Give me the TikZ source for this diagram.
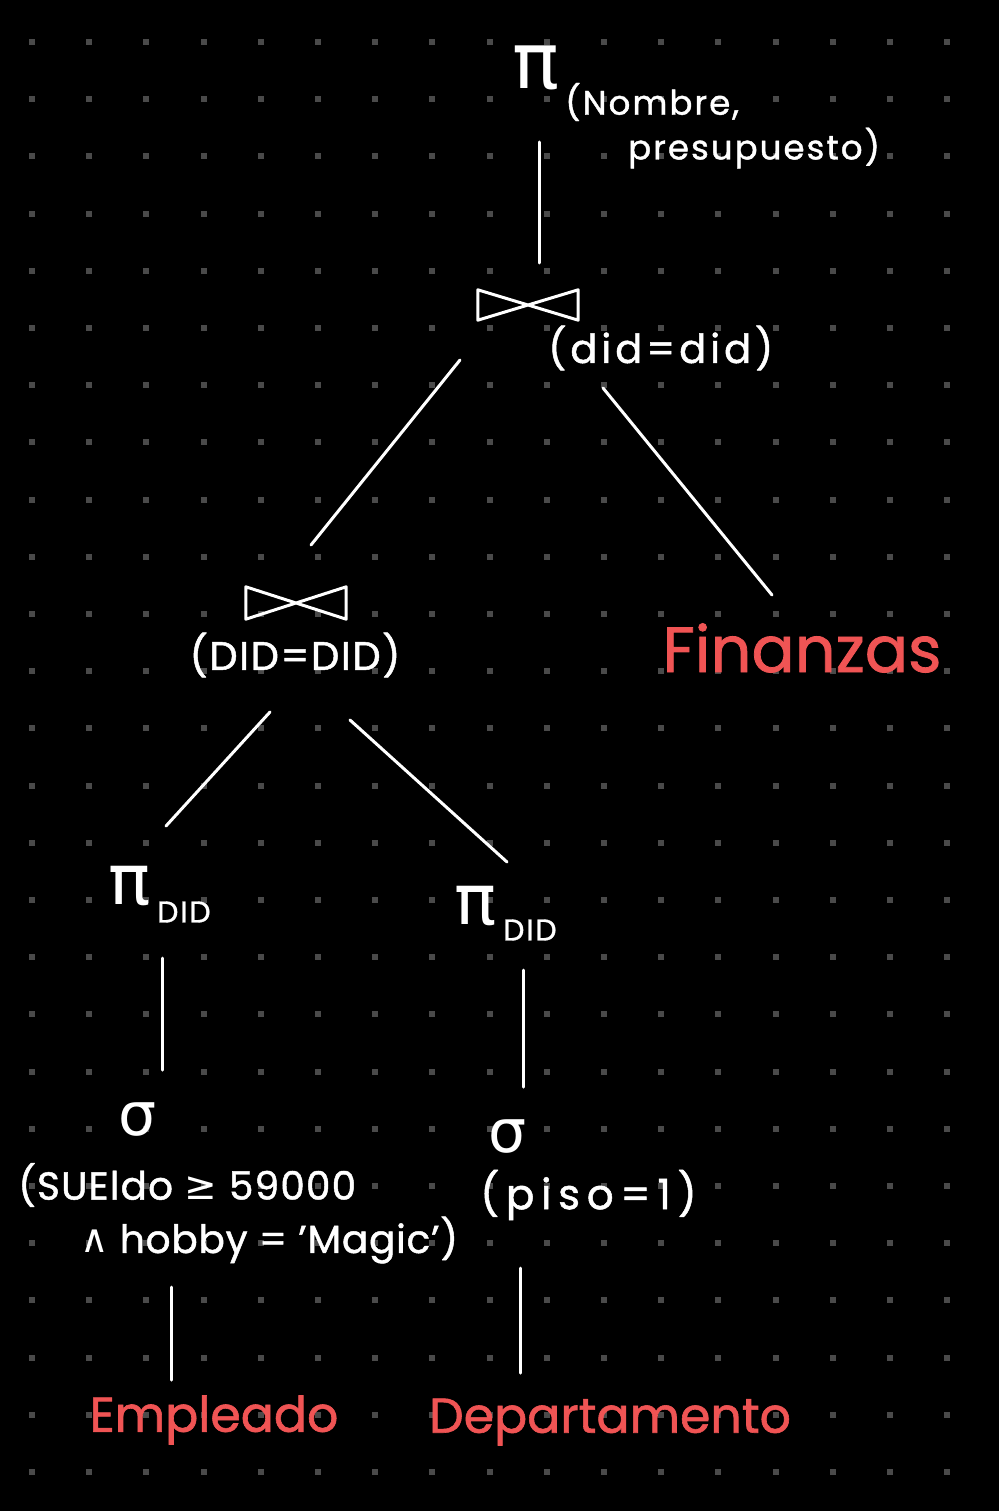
\documentclass[tikz,border=0pt]{standalone}
\usepackage{fontspec}
\usepackage{xcolor}
\setmainfont{Poppins}[FakeBold=1.2]
\newfontfamily\symfont{DejaVu Sans}
\usetikzlibrary{positioning}

\definecolor{inkred}{RGB}{240,84,84}
\definecolor{dotgray}{RGB}{74,74,74}

% bow-tie join symbol drawn over an empty node
\newcommand{\drawjoin}[1]{\draw[opline] (#1.north west) -- (#1.south west) -- (#1.north east) -- (#1.south east) -- cycle;}

\begin{document}
\begin{tikzpicture}[x=1pt, y=-1pt,
    every node/.style={text=white, inner sep=0pt},
    greek/.style={font=\symfont\fontsize{78}{80}\selectfont},
    greeksmall/.style={font=\symfont\fontsize{60}{62}\selectfont},
    attr/.style={font=\fontsize{34}{40}\selectfont\addfontfeature{LetterSpace=6}},
    subattr/.style={font=\fontsize{30}{36}\selectfont\addfontfeature{LetterSpace=6}},
    cond/.style={font=\fontsize{40}{48}\selectfont\addfontfeature{LetterSpace=4}},
    relname/.style={text=inkred, font=\fontsize{49}{56}\selectfont},
    joinop/.style={minimum width=100pt, minimum height=30pt},
    opline/.style={white, line width=3pt, line join=round, line cap=round},
    edge/.style={white, line width=3pt, line cap=round}]

    % background and dot grid
    \fill[black] (0,0) rectangle (999,1511);
    \useasboundingbox (0,0) rectangle (999,1511);
    \foreach \i in {0,...,16}
        \foreach \j in {0,...,25}
            \fill[dotgray] (32+57.2*\i-3, 42+57.2*\j-3) rectangle ++(6,6);

    % Projection (Nombre, presupuesto)
    \node [greek] (pitop) at (536,68) {π};
    \node [attr, anchor=west] (projattr) at (565,102) {(Nombre,};
    \node [attr, anchor=west] (projattrb) at (628,148) {presupuesto)};

    % Join did = did
    \node [joinop] (join1) at (528,305) {};
    \drawjoin{join1}
    \node [cond, anchor=west, font=\fontsize{40}{48}\selectfont\addfontfeature{LetterSpace=10}] (join1cond) at (548,348) {(did=did)};

    % Join DID = DID
    \node [joinop, minimum height=32pt] (join2) at (296,603) {};
    \drawjoin{join2}
    \node [cond] (join2cond) at (295,655) {(DID=DID)};

    % Finanzas
    \node [relname, font=\fontsize{64}{70}\selectfont] (finanzas) at (802,648) {Finanzas};

    % Projections DID
    \node [greek, font=\symfont\fontsize{70}{72}\selectfont] (pileft) at (130,886) {π};
    \node [subattr, anchor=west] (pileftattr) at (157,912) {DID};
    \node [greek, font=\symfont\fontsize{70}{72}\selectfont] (piright) at (476,906) {π};
    \node [subattr, anchor=west] (pirightattr) at (503,930) {DID};

    % Selections
    \node [greeksmall] (sigleft) at (138,1120) {σ};
    \node [cond, anchor=west, font=\fontsize{39}{46}\selectfont\addfontfeature{LetterSpace=3}] (sigleftcond) at (18,1185) {(SUEldo {\symfont≥} 59000};
    \node [cond, anchor=west, font=\fontsize{39}{46}\selectfont\addfontfeature{LetterSpace=2}] (sigleftcondb) at (80,1240) {{\symfont∧} hobby = 'Magic')};
    \node [greeksmall] (sigright) at (508,1137) {σ};
    \node [cond, anchor=west, font=\fontsize{42}{48}\selectfont\addfontfeature{LetterSpace=16}] (sigrightcond) at (480,1195) {(piso=1)};

    % Relations
    \node [relname] (empleado) at (214,1420) {Empleado};
    \node [relname] (depto) at (610,1422) {Departamento};

    % Connectors
    \draw[edge] ([shift={(3,74)}]pitop.center) -- ([shift={(11,-42)}]join1.center);
    \draw[edge] ([shift={(-68,55)}]join1.center) -- ([shift={(15,-58)}]join2.center);
    \draw[edge] ([shift={(75,83)}]join1.center) -- ([shift={(-30,-53)}]finanzas.center);
    \draw[edge] ([shift={(-26,109)}]join2.center) -- ([shift={(36,-60)}]pileft.center);
    \draw[edge] ([shift={(54,117)}]join2.center) -- ([shift={(31,-44)}]piright.center);
    \draw[edge] ([shift={(32,72)}]pileft.center) -- ([shift={(24,-50)}]sigleft.center);
    \draw[edge] ([shift={(47,64)}]piright.center) -- ([shift={(15,-50)}]sigright.center);
    \draw[edge] ([shift={(33,167)}]sigleft.center) -- ([shift={(-43,-40)}]empleado.center);
    \draw[edge] ([shift={(12,131)}]sigright.center) -- ([shift={(-90,-49)}]depto.center);
\end{tikzpicture}
\end{document}
